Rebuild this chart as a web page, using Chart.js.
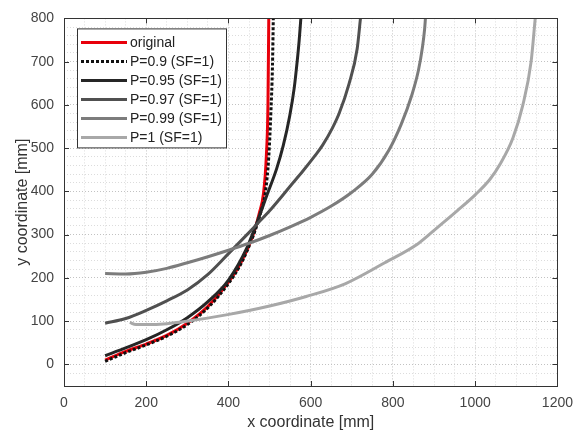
<!DOCTYPE html>
<html>
<head>
<meta charset="utf-8">
<script src="https://cdn.jsdelivr.net/npm/chart.js@4.4.1/dist/chart.umd.min.js"></script>
<style>
    html, body { margin: 0; padding: 0; background: #fff; }
    #wrap { width: 582px; height: 437px; }
</style>
</head>
<body>
<div id="wrap"><canvas id="cv" width="582" height="437"></canvas></div>
<script>
// --- curve data [mm] ---
const seriesLabels = ['original', 'P=0.9 (SF=1)', 'P=0.95 (SF=1)', 'P=0.97 (SF=1)', 'P=0.99 (SF=1)', 'P=1 (SF=1)'];

const originalX = [100, 150, 200, 250, 300, 350, 400, 430, 460, 475, 485, 492, 496, 498];
const originalY = [10, 30, 47, 67, 95, 134, 190, 235, 300, 350, 394, 480, 600, 800];

const p90X = [100, 150, 200, 250, 300, 350, 400, 430, 460, 478, 490, 498, 503, 507, 509];
const p90Y = [7, 27, 45, 65, 92, 131, 187, 232, 297, 350, 400, 480, 580, 690, 800];

const p95X = [100, 150, 200, 250, 300, 350, 400, 445, 470, 493, 517, 533, 549, 560, 567, 572, 576];
const p95Y = [20, 38, 57, 80, 108, 145, 195, 270, 330, 390, 452, 505, 575, 640, 700, 750, 800];

const p97X = [100, 150, 200, 250, 300, 350, 400, 445, 470, 500, 525, 550, 581, 610, 629, 653, 669, 693, 713, 721];
const p97Y = [95, 106, 125, 147, 172, 208, 256, 300, 325, 355, 383, 412, 447, 482, 507, 547, 580, 648, 730, 800];

const p99X = [100, 150, 200, 250, 300, 350, 400, 450, 500, 550, 600, 650, 700, 750, 790, 820, 845, 862, 872, 877, 879];
const p99Y = [210, 209, 213, 222, 235, 249, 264, 280, 298, 318, 340, 366, 398, 440, 495, 555, 620, 680, 735, 775, 800];

const p100X = [160, 175, 200, 250, 294, 398, 500, 589, 685, 780, 861, 910, 956, 1000, 1036, 1060, 1092, 1116, 1136, 1146];
const p100Y = [97, 92, 92, 94, 99, 115, 135, 157, 187, 235, 279, 318, 355, 392, 428, 462, 524, 600, 700, 800];

// axis ticks
const xMajorTicks = [0, 200, 400, 600, 800, 1000, 1200];
const yMajorTicks = [0, 100, 200, 300, 400, 500, 600, 700, 800];

const pts = (xs, ys) => xs.map((x, i) => ({ x: x, y: ys[i] }));

const FONT = "'Liberation Sans', Arial, Helvetica, sans-serif";
Chart.defaults.font.family = FONT;

function curve(label, xs, ys, color, order, dash) {
    return {
        label: label,
        data: pts(xs, ys),
        showLine: true,
        borderColor: color,
        backgroundColor: color,
        borderWidth: 3,
        borderDash: dash || [],
        borderCapStyle: 'butt',
        pointRadius: 0,
        cubicInterpolationMode: 'monotone',
        order: order
    };
}

// box + inward tick marks on all four sides, legend inside the axes
const axesFrame = {
    id: 'axesFrame',
    afterDatasetsDraw(chart) {
        const { ctx, chartArea: a, scales } = chart;
        ctx.save();
        ctx.strokeStyle = '#333';
        ctx.lineWidth = 1;
        ctx.setLineDash([]);
        ctx.beginPath();
        xMajorTicks.forEach(v => {
            const px = Math.round(scales.x.getPixelForValue(v)) + 0.5;
            ctx.moveTo(px, a.bottom); ctx.lineTo(px, a.bottom - 5);
            ctx.moveTo(px, a.top); ctx.lineTo(px, a.top + 5);
        });
        yMajorTicks.forEach(v => {
            const py = Math.round(scales.y.getPixelForValue(v)) + 0.5;
            ctx.moveTo(a.left, py); ctx.lineTo(a.left + 5, py);
            ctx.moveTo(a.right, py); ctx.lineTo(a.right - 5, py);
        });
        ctx.stroke();
        ctx.strokeRect(Math.round(a.left) + 0.5, Math.round(a.top) + 0.5,
            Math.round(a.right - a.left), Math.round(a.bottom - a.top));

        // legend
        const lx = a.left + 13, ly = a.top + 10, lw = 149, lh = 119;
        ctx.fillStyle = '#fff';
        ctx.fillRect(lx, ly, lw, lh);
        ctx.strokeStyle = '#333';
        ctx.strokeRect(lx + 0.5, ly + 0.5, lw, lh);
        ctx.font = '14px ' + FONT;
        ctx.textBaseline = 'middle';
        ctx.textAlign = 'left';
        chart.data.datasets.forEach((ds, i) => {
            const y = ly + 14 + i * 19;
            ctx.beginPath();
            ctx.strokeStyle = ds.borderColor;
            ctx.lineWidth = 3;
            ctx.setLineDash(ds.borderDash);
            ctx.moveTo(lx + 4, y);
            ctx.lineTo(lx + 50, y);
            ctx.stroke();
            ctx.setLineDash([]);
            ctx.fillStyle = '#222';
            ctx.fillText(ds.label, lx + 53, y + 1);
        });
        ctx.restore();
    }
};

new Chart(document.getElementById('cv'), {
    type: 'scatter',
    data: {
        datasets: [
            curve(seriesLabels[0], originalX, originalY, '#e8000b', 6),
            curve(seriesLabels[1], p90X, p90Y, '#111', 5, [3, 2]),
            curve(seriesLabels[2], p95X, p95Y, '#262626', 4),
            curve(seriesLabels[3], p97X, p97Y, '#505050', 3),
            curve(seriesLabels[4], p99X, p99Y, '#7c7c7c', 2),
            curve(seriesLabels[5], p100X, p100Y, '#a8a8a8', 1)
        ]
    },
    options: {
        responsive: false,
        animation: false,
        layout: { padding: { top: 16, right: 17, left: 0, bottom: 0 } },
        plugins: { legend: { display: false }, tooltip: { enabled: false } },
        scales: {
            x: {
                type: 'linear', min: 0, max: 1200,
                ticks: {
                    stepSize: 50, autoSkip: false, maxRotation: 0, padding: 9,
                    color: '#444', font: { size: 14 },
                    callback: v => (v % 200 === 0 ? v : '')
                },
                grid: {
                    drawTicks: false,
                    color: c => (c.tick && c.tick.value % 200 === 0 ? '#c2c2c2' : '#dcdcdc')
                },
                border: { display: false, dash: [1, 2] },
                title: {
                    display: true, text: 'x coordinate [mm]', color: '#333',
                    font: { size: 16 }, padding: { top: 0, bottom: 5 }
                },
                afterFit: s => { s.height = 51; }
            },
            y: {
                type: 'linear', min: -50, max: 800,
                ticks: {
                    stepSize: 20, autoSkip: false, padding: 10,
                    color: '#444', font: { size: 14 },
                    callback: v => (v % 100 === 0 ? v : '')
                },
                grid: {
                    drawTicks: false,
                    color: c => (c.tick && c.tick.value % 100 === 0 ? '#c2c2c2' : '#dcdcdc')
                },
                border: { display: false, dash: [1, 2] },
                title: {
                    display: true, text: 'y coordinate [mm]', color: '#333',
                    font: { size: 16 }, padding: { top: 13, bottom: 0 }
                },
                afterFit: s => { s.width = 64; }
            }
        }
    },
    plugins: [axesFrame]
});
</script>
</body>
</html>
